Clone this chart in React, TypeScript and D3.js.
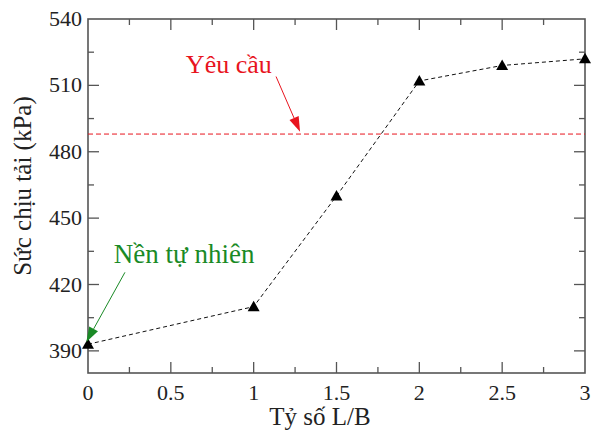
import React from "react";
import { scaleLinear, line, range } from "d3";

// Tỷ số L/B vs sức chịu tải
const ratios = [0, 1, 1.5, 2, 2.5, 3];
const capacity = [393, 410, 460, 512, 519, 522];
const requirement = 488;

const xTicks = [0, 0.5, 1, 1.5, 2, 2.5, 3];
const yTicks = [390, 420, 450, 480, 510, 540];

const width = 597;
const height = 432;
const margin = { top: 19, right: 12, bottom: 59, left: 88 };

const font = "Liberation Serif";
const axisColor = "#555";
const red = "#e8141e";
const green = "#1a8a26";

const Arrow = ({ x1, y1, x2, y2, color }) => {
  const a = Math.atan2(y2 - y1, x2 - x1);
  const len = 15;
  const half = 5;
  const bx = x2 - len * Math.cos(a);
  const by = y2 - len * Math.sin(a);
  const p1 = [bx + half * Math.sin(a), by - half * Math.cos(a)];
  const p2 = [bx - half * Math.sin(a), by + half * Math.cos(a)];
  return (
    <g>
      <line x1={x1} y1={y1} x2={bx} y2={by} stroke={color} strokeWidth={1} />
      <path d={`M${x2},${y2}L${p1[0]},${p1[1]}L${p2[0]},${p2[1]}Z`} fill={color} />
    </g>
  );
};

const App = () => {
  const x = scaleLinear().domain([0, 3]).range([margin.left, width - margin.right]);
  const y = scaleLinear().domain([380, 540]).range([height - margin.bottom, margin.top]);

  const x0 = x.range()[0];
  const x1 = x.range()[1];
  const yb = y.range()[0];
  const yt = y.range()[1];

  const pts = ratios.map((r, i) => [x(r), y(capacity[i])]);
  const path = line()(pts);

  const xMinor = range(0.25, 3, 0.5);
  const yMinor = range(405, 540, 30);

  const tri = (cx, cy) => {
    const s = 6;
    return `M${cx},${cy - s}L${cx + s},${cy + s * 0.75}L${cx - s},${cy + s * 0.75}Z`;
  };

  const txt = { fontFamily: font };

  return (
    <svg
      width={width}
      height={height}
      style={{ position: "absolute", left: 0, top: 0, background: "#fff", fontFamily: font }}
    >
      {/* ticks */}
      {xTicks.slice(1, -1).map((t) => (
        <g key={"xt" + t} stroke={axisColor} strokeWidth={1.3}>
          <line x1={x(t)} x2={x(t)} y1={yb} y2={yb - 11} />
          <line x1={x(t)} x2={x(t)} y1={yt} y2={yt + 11} />
        </g>
      ))}
      {xMinor.map((t) => (
        <g key={"xm" + t} stroke={axisColor} strokeWidth={1.3}>
          <line x1={x(t)} x2={x(t)} y1={yb} y2={yb - 6} />
          <line x1={x(t)} x2={x(t)} y1={yt} y2={yt + 6} />
        </g>
      ))}
      {yTicks.slice(0, -1).map((t) => (
        <g key={"yt" + t} stroke={axisColor} strokeWidth={1.3}>
          <line x1={x0} x2={x0 + 11} y1={y(t)} y2={y(t)} />
          <line x1={x1} x2={x1 - 11} y1={y(t)} y2={y(t)} />
        </g>
      ))}
      {yMinor.map((t) => (
        <g key={"ym" + t} stroke={axisColor} strokeWidth={1.3}>
          <line x1={x0} x2={x0 + 6} y1={y(t)} y2={y(t)} />
          <line x1={x1} x2={x1 - 6} y1={y(t)} y2={y(t)} />
        </g>
      ))}

      {/* frame */}
      <rect x={x0} y={yt} width={x1 - x0} height={yb - yt} fill="none" stroke={axisColor} strokeWidth={1.6} />

      {/* tick labels */}
      {xTicks.map((t) => (
        <text key={"xl" + t} style={txt} x={x(t)} y={yb + 27} textAnchor="middle" fontSize={22} fill="#222">
          {t}
        </text>
      ))}
      {yTicks.map((t) => (
        <text key={"yl" + t} style={txt} x={x0 - 6} y={y(t) + 7} textAnchor="end" fontSize={22} fill="#222">
          {t}
        </text>
      ))}

      {/* axis titles */}
      <text style={txt} x={320} y={height - 7} textAnchor="middle" fontSize={25} fill="#222">
        Tỷ số L/B
      </text>
      <text
        style={txt}
        transform={`translate(31,${(yt + yb) / 2 - 10}) rotate(-90)`}
        textAnchor="middle"
        fontSize={25}
        fill="#222"
      >
        Sức chịu tải (kPa)
      </text>

      {/* requirement line */}
      <line x1={x0} x2={x1} y1={y(requirement)} y2={y(requirement)} stroke={red} strokeWidth={1} strokeDasharray="5,3" />

      {/* data */}
      <path d={path} fill="none" stroke="#111" strokeWidth={1} strokeDasharray="4,3" />
      {pts.map(([cx, cy], i) => (
        <path key={"p" + i} d={tri(cx, cy)} fill="#000" />
      ))}

      {/* annotations */}
      <text style={txt} x={x(0.85)} y={y(515.5)} textAnchor="middle" fontSize={26} fill={red}>
        Yêu cầu
      </text>
      <Arrow x1={x(1.135)} y1={y(514)} x2={x(1.28)} y2={y(489)} color={red} />
      <text style={txt} x={x(0.58)} y={y(429.5)} textAnchor="middle" fontSize={27} fill={green}>
        Nền tự nhiên
      </text>
      <Arrow x1={x(0.223)} y1={y(425.5)} x2={x(-0.01)} y2={y(394)} color={green} />
    </svg>
  );
};

export default App;
